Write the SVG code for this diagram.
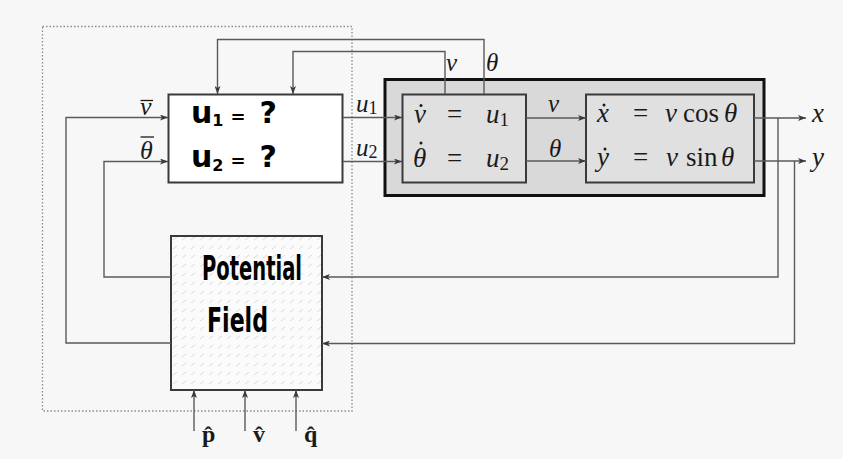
<svg xmlns="http://www.w3.org/2000/svg" width="843" height="459" viewBox="0 0 843 459">
  <defs>
    <style>
      .wire { fill: none; stroke: #5a5a5a; stroke-width: 1.4; }
      .box { stroke: #3a3a3a; stroke-width: 2; }
      .math { font-family: "Liberation Serif", "DejaVu Serif", serif; font-style: italic; fill: #1a1a1a; }
      .rm { font-family: "Liberation Serif", "DejaVu Serif", serif; font-style: normal; fill: #1a1a1a; }
      .hand { font-family: "DejaVu Sans", "Liberation Sans", sans-serif; font-weight: bold; fill: #000; }
      .acc { stroke: #1a1a1a; stroke-width: 1.3; fill: none; }
    </style>
    <marker id="arr" viewBox="0 0 8 6" markerWidth="8" markerHeight="6" refX="8" refY="3" orient="auto" markerUnits="userSpaceOnUse">
      <path d="M0,0 L8,3 L0,6 L2,3 z" fill="#3a3a3a"/>
    </marker>
    <!-- faint vector-field texture for the potential field block -->
    <pattern id="field" width="9" height="9" patternUnits="userSpaceOnUse">
      <path d="M2,6 L6,3" stroke="#cccccc" stroke-width="0.7"/>
    </pattern>
  </defs>

  <rect width="843" height="459" fill="#f7f7f7"/>

  <!-- controller boundary -->
  <rect x="42.5" y="26.5" width="309.5" height="384.5" fill="none" stroke="#8a8a8a" stroke-width="1.3" stroke-dasharray="1.5 2"/>

  <g id="plant">
    <rect x="385" y="79.5" width="379" height="116" fill="#d9d9d9" stroke="#111" stroke-width="3"/>
  </g>

  <g id="controller">
    <rect class="box" x="168.5" y="94.5" width="174" height="88" fill="#ffffff"/>
    <text class="hand" x="191" y="123" font-size="30">u<tspan font-size="16" dy="3">1</tspan><tspan dy="-3" dx="7" font-size="18">=</tspan><tspan dx="14" font-size="30">?</tspan></text>
    <text class="hand" x="191" y="167" font-size="30">u<tspan font-size="16" dy="4">2</tspan><tspan dy="-4" dx="7" font-size="18">=</tspan><tspan dx="14" font-size="30">?</tspan></text>
  </g>

  <g id="dynamics">
    <rect class="box" x="402.5" y="94.5" width="123.5" height="88" fill="#e0e0e0"/>
    <text class="math" x="414" y="123" font-size="27">v</text>
    <circle cx="421" cy="105.5" r="1.5" fill="#1a1a1a"/>
    <text class="rm" x="447" y="123" font-size="27">=</text>
    <text class="math" x="486" y="123" font-size="27">u<tspan class="rm" font-size="19" dy="3" font-style="normal">1</tspan></text>
    <text class="math" x="413" y="167" font-size="27">θ</text>
    <circle cx="421" cy="143" r="1.5" fill="#1a1a1a"/>
    <text class="rm" x="447" y="167" font-size="27">=</text>
    <text class="math" x="486" y="167" font-size="27">u<tspan class="rm" font-size="19" dy="3" font-style="normal">2</tspan></text>
  </g>

  <g id="kinematics">
    <rect class="box" x="586" y="94.5" width="168" height="88" fill="#e0e0e0"/>
    <text class="math" x="597" y="122" font-size="27">x</text>
    <circle cx="604" cy="105" r="1.5" fill="#1a1a1a"/>
    <text class="rm" x="633" y="122" font-size="27">=</text>
    <text class="math" x="665" y="122" font-size="27">v</text>
    <text class="rm" x="683" y="122" font-size="27">cos</text>
    <text class="math" x="724" y="122" font-size="27">θ</text>
    <text class="math" x="597" y="166" font-size="27">y</text>
    <circle cx="605" cy="149" r="1.5" fill="#1a1a1a"/>
    <text class="rm" x="633" y="166" font-size="27">=</text>
    <text class="math" x="666" y="166" font-size="27">v</text>
    <text class="rm" x="686" y="166" font-size="27">sin</text>
    <text class="math" x="721" y="166" font-size="27">θ</text>
  </g>

  <g id="potential-field">
    <rect x="171" y="236" width="151" height="154" fill="#fbfbfb"/>
    <rect x="171" y="236" width="151" height="154" fill="url(#field)"/>
    <rect class="box" x="171" y="236" width="151" height="154" fill="none"/>
    <text class="hand" x="202" y="280" font-size="33" textLength="100" lengthAdjust="spacingAndGlyphs">Potential</text>
    <text class="hand" x="207" y="332" font-size="34" textLength="61" lengthAdjust="spacingAndGlyphs">Field</text>
  </g>

  <g id="connectors">
    <path class="wire" d="M484,94 V39.5 H217.5 V94" marker-end="url(#arr)"/>
    <path class="wire" d="M445,94 V51.5 H293 V94" marker-end="url(#arr)"/>
    <path class="wire" d="M171,343 H66 V117.5 H168" marker-end="url(#arr)"/>
    <path class="wire" d="M171,277 H104 V161.5 H168" marker-end="url(#arr)"/>
    <path class="wire" d="M343,117.5 H402" marker-end="url(#arr)"/>
    <path class="wire" d="M343,161.5 H402" marker-end="url(#arr)"/>
    <path class="wire" d="M526,118 H586" marker-end="url(#arr)"/>
    <path class="wire" d="M526,161 H586" marker-end="url(#arr)"/>
    <path class="wire" d="M754,118 H806" marker-end="url(#arr)"/>
    <path class="wire" d="M754,161 H806" marker-end="url(#arr)"/>
    <path class="wire" d="M778,118 V277 H322" marker-end="url(#arr)"/>
    <path class="wire" d="M794.5,161 V343.5 H322" marker-end="url(#arr)"/>
    <path class="wire" d="M194,431 V390" marker-end="url(#arr)"/>
    <path class="wire" d="M245,431 V390" marker-end="url(#arr)"/>
    <path class="wire" d="M296,431 V390" marker-end="url(#arr)"/>
  </g>

  <g id="labels">
    <text class="math" x="140" y="115" font-size="26">v</text>
    <path class="acc" d="M140.5,100.5 H153"/>
    <text class="math" x="140" y="159" font-size="26">θ</text>
    <path class="acc" d="M140.5,137 H154"/>
    <text class="math" x="356" y="112" font-size="25">u<tspan class="rm" font-size="18" dy="2" font-style="normal">1</tspan></text>
    <text class="math" x="356" y="156" font-size="25">u<tspan class="rm" font-size="18" dy="2" font-style="normal">2</tspan></text>
    <text class="math" x="446" y="71" font-size="25">v</text>
    <text class="math" x="486" y="71" font-size="25">θ</text>
    <text class="math" x="548" y="112" font-size="25">v</text>
    <text class="math" x="549" y="157" font-size="25">θ</text>
    <text class="math" x="812" y="122" font-size="27">x</text>
    <text class="math" x="812" y="166" font-size="27">y</text>
    <text class="rm" x="202" y="442" font-size="24" font-weight="bold">p̂</text>
    <text class="rm" x="253" y="442" font-size="24" font-weight="bold">v̂</text>
    <text class="rm" x="304" y="442" font-size="24" font-weight="bold">q̂</text>
  </g>
</svg>
